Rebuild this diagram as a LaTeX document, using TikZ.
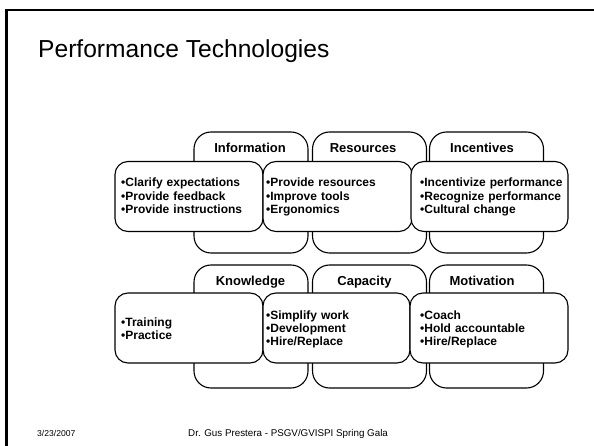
\documentclass[tikz,border=0pt]{standalone}
\usepackage{fontspec}
\setmainfont{Liberation Sans}

\begin{document}
\begin{tikzpicture}[x=1pt, y=-1pt,
		back/.style={draw, line width=1.1pt, rounded corners=17pt, minimum width=114pt, inner sep=0pt},
		front/.style={draw, fill=white, line width=1.1pt, rounded corners=13pt, minimum height=70pt, inner sep=0pt},
		head/.style={anchor=base, inner sep=0pt, font=\bfseries\fontsize{13}{15}\selectfont},
		items/.style={anchor=base west, inner sep=0pt, text width=150pt, align=left, font=\bfseries\fontsize{12}{13.4}\selectfont},
		foot/.style={anchor=base west, inner sep=0pt, font=\fontsize{8.6}{10}\selectfont}]
			\useasboundingbox[fill=white]	(0, 0) rectangle (594, 446);

			\draw[line width=2.4pt]		(6.5, 446) -- (6.5, 10) -- (594, 10);

			\node[anchor=base west, inner sep=0pt, font=\fontsize{24.6}{28}\selectfont]
										(title) at (38, 57.7) {Performance Technologies};

			\node[back, minimum height=121pt]	(infoback) at (251, 192.5) {};
			\node[back, minimum height=121pt]	(resback)  at (369.5, 192.5) {};
			\node[back, minimum height=121pt]	(incback)  at (486.5, 192.5) {};

			\node[head]		(infohead) at (250, 153) {Information};
			\node[head]		(reshead)  at (363, 153) {Resources};
			\node[head]		(inchead)  at (482, 153) {Incentives};

			\node[front, minimum width=148pt]	(infofront) at (189, 196.5) {};
			\node[front, minimum width=149pt]	(resfront)  at (337.5, 196.5) {};
			\node[front, minimum width=157pt]	(incfront)  at (489.5, 196.5) {};

			\node[items]	(infoitems) at (121, 186.7) {•Clarify expectations\\•Provide feedback\\•Provide instructions};
			\node[items]	(resitems)  at (266, 186.7) {•Provide resources\\•Improve tools\\•Ergonomics};
			\node[items]	(incitems)  at (420, 186.7) {•Incentivize performance\\•Recognize performance\\•Cultural change};

			\node[back, minimum height=123pt]	(knowback) at (251, 326.5) {};
			\node[back, minimum height=123pt]	(capback)  at (369.5, 326.5) {};
			\node[back, minimum height=123pt]	(motback)  at (486.5, 326.5) {};

			\node[head]		(knowhead) at (250.5, 285) {Knowledge};
			\node[head]		(caphead)  at (364.5, 285) {Capacity};
			\node[head]		(mothead)  at (482, 285) {Motivation};

			\node[front, minimum width=148pt]	(knowfront) at (189, 328) {};
			\node[front, minimum width=147pt]	(capfront)  at (336.5, 328) {};
			\node[front, minimum width=158pt]	(motfront)  at (489, 328) {};

			\node[items]	(knowitems) at (121, 326) {•Training\\•Practice};
			\node[items]	(capitems)  at (266, 319) {•Simplify work\\•Development\\•Hire/Replace};
			\node[items]	(motitems)  at (420, 319) {•Coach\\•Hold accountable\\•Hire/Replace};

			\node[foot]		(date)   at (37, 436) {3/23/2007};
			\node[foot, font=\fontsize{9.8}{11}\selectfont]
							(footer) at (188, 436) {Dr. Gus Prestera - PSGV/GVISPI Spring Gala};
		\end{tikzpicture}
\end{document}
